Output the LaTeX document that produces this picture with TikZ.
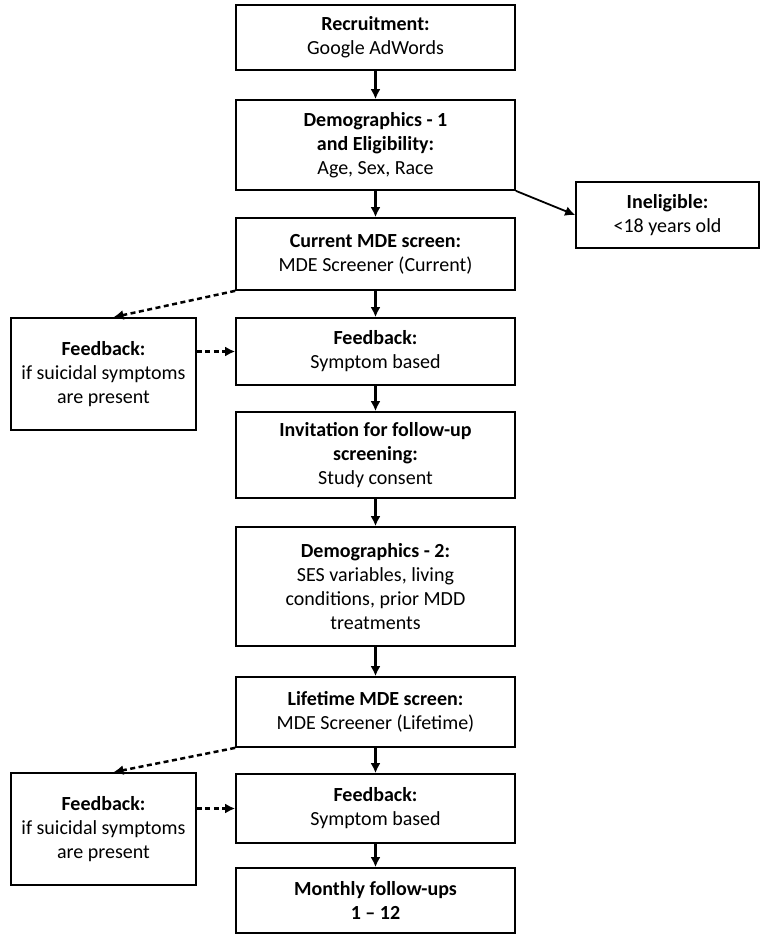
\documentclass[tikz,border=0pt]{standalone}
\usepackage{fontspec}
\setmainfont{Carlito}
\usetikzlibrary{arrows.meta}
\begin{document}
\begin{tikzpicture}[x=1pt,y=-1pt,every text node part/.style={align=center},font=\fontsize{20}{24}\selectfont,
stepbox/.style={draw,line width=1.7pt,minimum width=279pt,inner sep=0pt},
sidebox/.style={draw,line width=1.7pt,minimum width=185pt,minimum height=112pt,inner sep=0pt},
flow/.style={-{Latex[length=10pt,width=10pt]},line width=2.5pt},
dflow/.style={flow,dash pattern=on 5pt off 3.5pt}]
\useasboundingbox (0,0) rectangle (760,935);
\node [stepbox,minimum height=65pt] (rec) at (375.5,37.5) {\textbf{Recruitment:}\\Google AdWords};
\node [stepbox,minimum height=90pt] (demoA) at (375.5,145) {\textbf{Demographics - 1}\\\textbf{and Eligibility:}\\Age, Sex, Race};
\node [draw,line width=1.7pt,minimum width=183pt,minimum height=66pt,inner sep=0pt] (inel) at (667.5,215) {\textbf{Ineligible:}\\<18 years old};
\node [stepbox,minimum height=72pt] (curscr) at (375.5,254) {\textbf{Current MDE screen:}\\MDE Screener (Current)};
\node [sidebox] (suicA) at (103.5,374) {\textbf{Feedback:}\\if suicidal symptoms\\are present};
\node [stepbox,minimum height=67pt] (fbA) at (375.5,351.5) {\textbf{Feedback:}\\Symptom based};
\node [stepbox,minimum height=86pt] (invite) at (375.5,455) {\textbf{Invitation for follow-up}\\\textbf{screening:}\\Study consent};
\node [stepbox,minimum height=119pt] (demoB) at (375.5,586.5) {\textbf{Demographics - 2:}\\SES variables, living\\conditions, prior MDD\\treatments};
\node [stepbox,minimum height=70pt] (lifescr) at (375.5,712) {\textbf{Lifetime MDE screen:}\\MDE Screener (Lifetime)};
\node [sidebox] (suicB) at (103.5,829) {\textbf{Feedback:}\\if suicidal symptoms\\are present};
\node [stepbox,minimum height=69pt] (fbB) at (375.5,808.5) {\textbf{Feedback:}\\Symptom based};
\node [stepbox,minimum height=65pt] (monthly) at (375.5,900.5) {\textbf{Monthly follow-ups}\\\textbf{1 -- 12}};
\draw [flow] (rec) -- (demoA);
\draw [flow] (demoA) -- (curscr);
\draw [flow,line width=1.8pt] (demoA.south east) -- (inel.west);
\draw [flow] (curscr) -- (fbA);
\draw [dflow] (curscr.south west) -- (suicA.80);
\draw [dflow] (suicA.east |- fbA.west) -- (fbA.west);
\draw [flow] (fbA) -- (invite);
\draw [flow] (invite) -- (demoB);
\draw [flow] (demoB) -- (lifescr);
\draw [flow] (lifescr) -- (fbB);
\draw [dflow] (lifescr.south west) -- (suicB.80);
\draw [dflow] (suicB.east |- fbB.west) -- (fbB.west);
\draw [flow] (fbB) -- (monthly);
\end{tikzpicture}
\end{document}
